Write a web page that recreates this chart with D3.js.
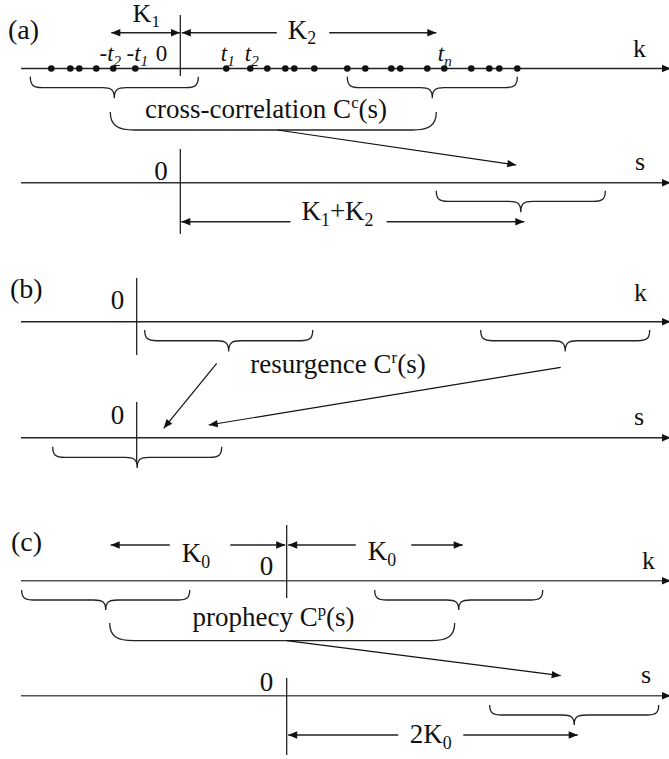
<!DOCTYPE html>
<html>
<head>
<meta charset="utf-8">
<script src="https://cdn.jsdelivr.net/npm/d3@7"></script>
<style>
  html, body { margin: 0; padding: 0; background: #fff; }
  svg { display: block; }
  text { font-family: "Liberation Serif", "Times New Roman", serif; }
</style>
</head>
<body>
<svg id="fig" width="669" height="759"></svg>
<script>
// ---------------- data (lag units, 0 = origin of each panel) ----------------
const panelLabels = ["(a)", "(b)", "(c)"];
const axisNames = ["k", "s"];

// (a) cross-correlation: event times on the k axis
const aEventLags = [-129, -110, -101, -84, -67, -45, 46, 70, 87, 105, 114, 134,
                    167, 185, 211, 220, 247, 264, 291, 309, 319, 337];
const aTickSigns = ["-", "-", "", "", ""];
const aTickSubs  = ["2", "1", "1", "2", "n"];
const aTickLags  = [-67, -45, 46, 70, 264];
const aK1 = 69, aK2 = 256, aSumSpan = 344;
const aKBraces = [[-150, 18], [167, 337]];
const aBracket = [-70, 256];
const aSBraces = [[256, 425]];
const aArrow = [97, 336];

// (b) resurgence
const bKBraces = [[8, 176], [344, 513]];
const bSBraces = [[-84, 85]];
const bArrows = [[80, 27], [424, 72]];

// (c) prophecy
const cK0 = 176, cDoubleSpan = 291;
const cKBraces = [[-265, -97], [88, 256]];
const cBracket = [-177, 168];
const cSBraces = [[203, 372]];
const cArrow = [0, 274];

// ---------------- drawing helpers ----------------
const svg = d3.select("#fig");
const X0 = 21, X1 = 671;
const INK = "#111";
const FS = 27;

const defs = svg.append("defs");
defs.append("marker")
  .attr("id", "head")
  .attr("viewBox", "-10 -5 11 10")
  .attr("markerWidth", 11).attr("markerHeight", 10)
  .attr("markerUnits", "userSpaceOnUse")
  .attr("refX", 0).attr("refY", 0)
  .attr("orient", "auto-start-reverse")
  .append("path")
  .attr("d", "M0,0L-9,-3.7L-9,3.7Z")
  .attr("fill", INK);

function scaleFor(origin) {
  return d3.scaleLinear().domain([X0 - origin, X1 - origin]).range([X0, X1]);
}

function label(g, x, y, parts, size, anchor) {
  const t = g.append("text")
    .attr("x", x).attr("y", y)
    .attr("font-size", size)
    .attr("text-anchor", anchor || "start")
    .attr("fill", INK);
  let shift = 0;
  parts.forEach(p => {
    const target = p.sub ? size * 0.22 : p.sup ? -size * 0.36 : 0;
    const s = t.append("tspan").text(p.t).attr("dy", target - shift);
    shift = target;
    if (p.sub) s.attr("font-size", size * 0.66);
    if (p.sup) s.attr("font-size", size * 0.62);
    if (p.it) s.attr("font-style", "italic");
  });
  return t;
}

function axisLine(g, y, name, nameX, nameY, color) {
  g.append("line")
    .attr("x1", X0).attr("x2", X1).attr("y1", y).attr("y2", y)
    .attr("stroke", color || "#222").attr("stroke-width", 1.5)
    .attr("marker-end", "url(#head)");
  label(g, nameX, nameY, [{t: name}], FS - 1);
}

function originLine(g, x, y1, y2) {
  g.append("line")
    .attr("x1", x).attr("x2", x).attr("y1", y1).attr("y2", y2)
    .attr("stroke", INK).attr("stroke-width", 1.2);
}

function bracePath(xa, xb, y, h) {
  const r = h / 2, m = (xa + xb) / 2, w = 12;
  return `M${xa},${y}C${xa},${y + r * 0.8} ${xa + 3},${y + r} ${xa + w},${y + r}` +
         `L${m - w},${y + r}C${m - 3},${y + r} ${m},${y + r * 1.2} ${m},${y + h}` +
         `M${xb},${y}C${xb},${y + r * 0.8} ${xb - 3},${y + r} ${xb - w},${y + r}` +
         `L${m + w},${y + r}C${m + 3},${y + r} ${m},${y + r * 1.2} ${m},${y + h}`;
}

function braces(g, x, spans, y, h) {
  g.selectAll(null).data(spans).enter().append("path")
    .attr("d", d => bracePath(x(d[0]), x(d[1]), y, h))
    .attr("fill", "none").attr("stroke", "#222").attr("stroke-width", 1.3);
}

function bracket(g, x, span, yTop, yBot) {
  const a = x(span[0]), b = x(span[1]);
  g.append("path")
    .attr("d", `M${a},${yTop}C${a},${yBot - 4} ${a + 8},${yBot} ${a + 24},${yBot}` +
               `L${b - 24},${yBot}C${b - 8},${yBot} ${b},${yBot - 4} ${b},${yTop}`)
    .attr("fill", "none").attr("stroke", "#222").attr("stroke-width", 1.3);
}

function arrow(g, x1, y1, x2, y2) {
  g.append("line")
    .attr("x1", x1).attr("y1", y1).attr("x2", x2).attr("y2", y2)
    .attr("stroke", INK).attr("stroke-width", 1.2)
    .attr("marker-end", "url(#head)");
}

// dimension line with arrowheads at both ends, optionally split around its label
function dimension(g, xa, xb, y, lab) {
  const t = label(g, lab.x, lab.y, lab.parts, lab.size || FS, "middle");
  const seg = (p, q, start, end) => {
    const l = g.append("line")
      .attr("x1", p).attr("x2", q).attr("y1", y).attr("y2", y)
      .attr("stroke", "#222").attr("stroke-width", 1.4);
    if (start) l.attr("marker-start", "url(#head)");
    if (end) l.attr("marker-end", "url(#head)");
  };
  if (lab.inline) {
    const bb = t.node().getBBox();
    const gap = lab.gap || [12, 12];
    seg(xa, bb.x - gap[0], true, false);
    seg(bb.x + bb.width + gap[1], xb, false, true);
  } else {
    seg(xa, xb, true, true);
  }
}

// ---------------- panel (a): cross-correlation ----------------
{
  const origin = 180.3, kY = 68.5, sY = 182.7;
  const x = scaleFor(origin);
  const g = svg.append("g");
  label(g, 8, 39, [{t: panelLabels[0]}], FS + 1);

  axisLine(g, kY, axisNames[0], 633, 57);
  originLine(g, x(0), 15, 76);

  dimension(g, x(-aK1), x(0) - 0.3, 32.7,
    {x: x(-aK1 / 2) + 0.5, y: 21.5, size: FS - 1, parts: [{t: "K"}, {t: "1", sub: 1}]});
  dimension(g, x(0) + 1.5, x(aK2), 32.7,
    {x: 302, y: 38.5, inline: true, gap: [11, 13], parts: [{t: "K"}, {t: "2", sub: 1}]});

  g.selectAll(null).data(aEventLags).enter().append("circle")
    .attr("cx", d => x(d)).attr("cy", kY).attr("r", 3.3).attr("fill", INK);

  const tickShift = [-3, 2, 1.5, 1.5, 0.5];
  aTickLags.forEach((d, i) => {
    label(g, x(d) + tickShift[i], 60.5,
      [{t: aTickSigns[i]}, {t: "t", it: 1}, {t: aTickSubs[i], sub: 1, it: 1}],
      23, "middle");
  });
  label(g, x(0) - 13, 61, [{t: "0"}], 23, "end");

  braces(g, x, aKBraces, kY + 8.3, 21.5);
  bracket(g, x, aBracket, kY + 43.5, kY + 61.5);
  label(g, 266, 118, [{t: "cross-correlation C"}, {t: "c", sup: 1}, {t: "(s)"}], FS, "middle");
  arrow(g, x(aArrow[0]), kY + 61.5, x(aArrow[1]), 165);

  axisLine(g, sY, axisNames[1], 635, 170, "#333");
  originLine(g, x(0), 149, 234);
  label(g, x(0) - 12.5, 180, [{t: "0"}], FS, "end");
  braces(g, x, aSBraces, sY + 8, 21.5);
  dimension(g, x(0) + 1, x(aSumSpan), 221.7,
    {x: 337.5, y: 220, inline: true, gap: [11, 13],
     parts: [{t: "K"}, {t: "1", sub: 1}, {t: "+K"}, {t: "2", sub: 1}]});
}

// ---------------- panel (b): resurgence ----------------
{
  const origin = 136.7, kY = 321.7, sY = 437.7;
  const x = scaleFor(origin);
  const g = svg.append("g");
  label(g, 10, 297.5, [{t: panelLabels[1]}], FS + 1);

  axisLine(g, kY, axisNames[0], 634, 300.7);
  originLine(g, x(0), 278, 355);
  label(g, x(0) - 12.5, 309, [{t: "0"}], FS, "end");
  braces(g, x, bKBraces, kY + 8.3, 21.5);
  label(g, 338, 373, [{t: "resurgence C"}, {t: "r", sup: 1}, {t: "(s)"}], FS, "middle");

  arrow(g, x(bArrows[0][0]), 363.3, x(bArrows[0][1]), 428.3);
  arrow(g, x(bArrows[1][0]), 367.3, x(bArrows[1][1]), 425);

  axisLine(g, sY, axisNames[1], 634, 425);
  originLine(g, x(0), 402, 464);
  label(g, x(0) - 12.5, 424, [{t: "0"}], FS, "end");
  braces(g, x, bSBraces, sY + 9, 21.3);
}

// ---------------- panel (c): prophecy ----------------
{
  const origin = 286.7, kY = 580.7, sY = 695.7;
  const x = scaleFor(origin);
  const g = svg.append("g");
  label(g, 11, 551, [{t: panelLabels[2]}], FS + 1);

  dimension(g, x(-cK0), x(0) - 1.5, 545,
    {x: 196, y: 562, inline: true, gap: [12, 20], parts: [{t: "K"}, {t: "0", sub: 1}]});
  dimension(g, x(0) + 1.5, x(cK0), 545,
    {x: 382, y: 560, inline: true, gap: [12, 15], parts: [{t: "K"}, {t: "0", sub: 1}]});

  axisLine(g, kY, axisNames[0], 642, 569, "#555");
  originLine(g, x(0), 525, 598);
  label(g, x(0) - 13.5, 575, [{t: "0"}], FS, "end");
  braces(g, x, cKBraces, kY + 9.3, 20);
  bracket(g, x, cBracket, kY + 42.3, kY + 60);
  label(g, 273.5, 626, [{t: "prophecy C"}, {t: "p", sup: 1}, {t: "(s)"}], FS, "middle");
  arrow(g, x(cArrow[0]), kY + 60, x(cArrow[1]), 675.7);

  axisLine(g, sY, axisNames[1], 641, 683.3, "#555");
  originLine(g, x(0), 678, 755);
  label(g, x(0) - 13.5, 691, [{t: "0"}], FS, "end");
  braces(g, x, cSBraces, sY + 9.3, 20);
  dimension(g, x(0) + 1.5, x(cDoubleSpan), 735,
    {x: 430.7, y: 743, inline: true, gap: [11.5, 11.5],
     parts: [{t: "2K"}, {t: "0", sub: 1}]});
}
</script>
</body>
</html>
